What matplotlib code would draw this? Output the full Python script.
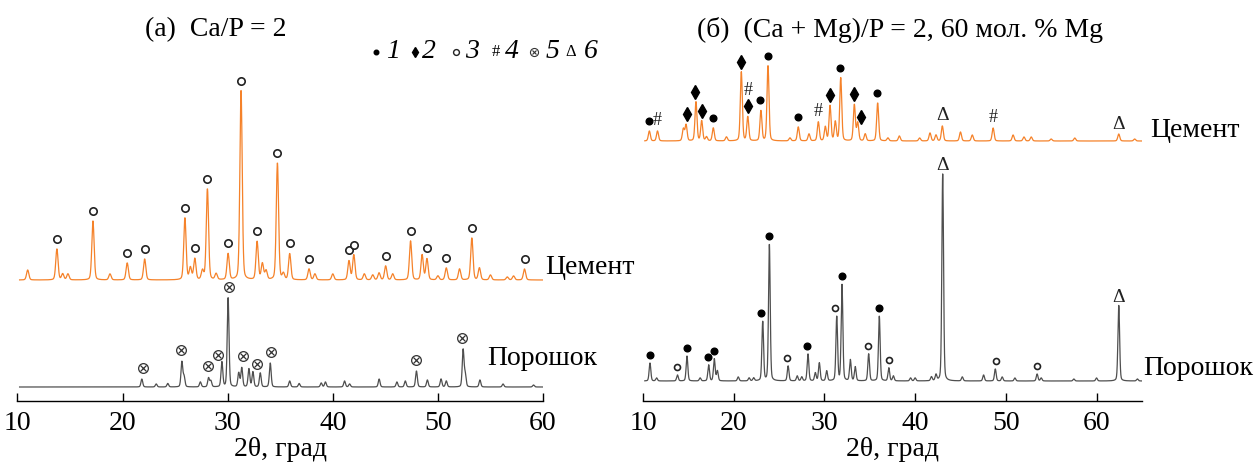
import numpy as np
import matplotlib.pyplot as plt

plt.rcParams['font.family'] = ['Liberation Serif', 'DejaVu Serif']

W, H = 1256, 465
Y0 = 401  # row of the x axis line, px

# ---- (a) Ca/P = 2 : cement ----
a_cem_pos = [10.97, 13.75, 14.3, 14.8, 17.18, 18.8, 20.44, 22.1, 25.93, 26.45,
             26.87, 27.6, 28.07, 28.9, 30.04, 31.27, 32.8, 33.3, 33.65, 34.73,
             35.3, 35.9, 37.74, 38.3, 40.0, 41.54, 42.0, 43.0, 43.8, 44.4,
             45.03, 45.7, 47.4, 48.5, 48.96, 50.0, 50.8, 52.06, 53.23, 53.95,
             55.0, 56.6, 57.2, 58.24]
a_cem_int = [10, 31, 6, 6, 59, 6, 17, 21, 62, 12,
             21, 9, 91, 6, 26, 190, 38, 16, 9, 117,
             6, 26, 11, 6, 6, 19, 25, 6, 5, 7,
             14, 6, 39, 25, 21, 4, 12, 11, 42, 12,
             5, 3, 4, 11]
a_cem_base = 121
a_cem_marks = [(13.75, '○'), (17.18, '○'), (20.44, '○'), (22.1, '○'), (25.93, '○'),
               (26.87, '○'), (28.07, '○'), (30.04, '○'), (31.27, '○'), (32.8, '○'),
               (34.73, '○'), (35.9, '○'), (37.74, '○'), (41.54, '○'), (42.0, '○'),
               (45.03, '○'), (47.4, '○'), (48.96, '○'), (50.8, '○'), (53.23, '○'),
               (58.24, '○')]

# ---- (a) Ca/P = 2 : powder ----
a_pow_pos = [21.83, 23.2, 24.3, 25.64, 25.85, 27.4, 28.18, 28.4, 29.45, 30.04,
             31.05, 31.34, 32.02, 32.4, 33.1, 34.05, 35.9, 36.8, 38.9, 39.3,
             41.12, 41.6, 44.41, 46.1, 46.9, 47.96, 49.0, 50.3, 50.8, 52.4,
             52.6, 54.0, 56.2, 59.1]
a_pow_int = [8, 3, 3.5, 25, 10, 5, 9, 6, 25, 89,
             14, 19, 18, 15, 14, 24, 6, 3.5, 4, 5,
             6, 3, 8, 5, 6, 16, 7, 8, 6, 37,
             12, 7, 3, 2]
a_pow_base = 14
a_pow_marks = [(21.95, '⊗'), (25.6, '⊗'), (28.1, '⊗'), (29.1, '⊗'), (30.1, '⊗'),
               (31.5, '⊗'), (32.75, '⊗'), (34.1, '⊗'), (47.96, '⊗'), (52.3, '⊗')]

# ---- (б) (Ca+Mg)/P = 2, 60 mol.% Mg : cement ----
b_cem_pos = [10.7, 11.6, 14.45, 14.75, 15.84, 16.47, 17.0, 17.75, 19.2, 20.84,
             21.55, 23.0, 23.78, 26.2, 27.12, 28.3, 29.33, 30.1, 30.62, 31.2,
             31.8, 33.3, 33.67, 34.5, 35.87, 37.0, 38.26, 40.5, 41.64, 42.3,
             43.0, 45.0, 46.3, 48.6, 50.8, 52.0, 52.8, 55.0, 57.6, 62.45,
             64.2]
b_cem_int = [10, 10, 12, 16, 39, 20, 4, 13, 4, 69,
             24, 30, 75, 3, 14, 7, 19, 14, 35, 19,
             63, 36, 18, 7, 38, 3, 5, 3, 8, 6,
             15, 9, 6, 13, 6, 4, 4, 2, 3, 7,
             2]
b_cem_base = 260
b_cem_marks = [(10.7, '●'), (11.6, '#'), (14.9, '♦'), (15.7, '♦'), (16.47, '♦'),
               (17.75, '●'), (20.84, '♦'), (21.6, '♦'), (21.6, '#', 1), (22.94, '●'),
               (23.78, '●'), (27.12, '●'), (29.26, '#'), (30.62, '♦'), (31.75, '●'),
               (33.25, '♦'), (34.05, '♦'), (35.8, '●'), (43.0, 'Δ'), (48.6, '#'),
               (62.45, 'Δ')]

# ---- (б) powder ----
b_pow_pos = [10.77, 11.5, 13.8, 14.85, 16.3, 17.24, 17.86, 18.2, 20.5, 21.7,
             22.2, 23.2, 23.93, 26.0, 27.0, 27.5, 28.19, 29.0, 29.44, 30.25,
             31.36, 31.94, 32.86, 33.4, 34.88, 36.05, 37.1, 37.6, 39.5, 40.0,
             41.8, 42.3, 43.04, 45.2, 47.55, 48.84, 49.6, 51.0, 53.45, 53.9,
             57.5, 60.0, 62.45, 64.5]
b_pow_int = [18, 3, 6, 25, 3, 16, 22, 10, 4, 3,
             3, 59, 137, 15, 5, 4, 27, 8, 18, 10,
             64, 96, 21, 14, 27, 65, 13, 5, 3, 3,
             4, 6, 207, 4, 6, 12, 4, 3, 7, 3,
             2, 3, 76, 2]
b_pow_base = 20
b_pow_marks = [(10.77, '●'), (13.75, '○'), (14.85, '●'), (17.2, '●'), (17.8, '●'),
               (22.98, '●'), (23.85, '●'), (25.9, '○'), (28.1, '●'), (31.17, '○'),
               (31.9, '●'), (34.8, '○'), (36.0, '●'), (37.1, '○'), (43.04, 'Δ'),
               (48.9, '○'), (53.4, '○'), (62.45, 'Δ')]

ORANGE = '#f5822a'
GRAY = '#4f4f4f'


def pattern(tt, pos, amp, base, fwhm):
    y = np.full_like(tt, float(base))
    for p, a in zip(pos, amp):
        u = (tt - p) / fwhm
        y += a * (0.75 * np.exp(-4 * np.log(2) * u ** 2) + 0.25 / (1 + 4 * u ** 2))
    return y


def draw_mark(ax, x, y, sym, small=False):
    if sym == '●':
        ax.plot(x, y, 'o', ms=4.8, color='k', clip_on=False)
    elif sym == '○':
        ax.plot(x, y, 'o', ms=4.3 if small else 5.3, mfc='white', mec='#222', mew=1.2, clip_on=False)
    elif sym == '♦':
        ax.plot(x, y, 'd', ms=7, color='k', clip_on=False)
    elif sym == '⊗':
        ax.plot(x, y, 'o', ms=7, mfc='white', mec='#333', mew=0.9, clip_on=False)
        ax.plot(x, y, 'x', ms=4.3, mec='#333', mew=0.9, clip_on=False)
    elif sym == '#':
        ax.text(x, y, '#', fontsize=13, ha='center', va='center', color='#222')
    elif sym == 'Δ':
        ax.text(x, y, 'Δ', fontsize=14, ha='center', va='center', color='#222')


def marks(ax, tt, yy, mlist, gap, small=False):
    for m in mlist:
        deg, sym = m[0], m[1]
        level = m[2] if len(m) > 2 else 0
        sel = np.abs(tt - deg) <= 0.3
        top = yy[sel].max()
        draw_mark(ax, deg, top + gap + 16 * level, sym, small)


fig = plt.figure(figsize=(W / 100, H / 100), dpi=100)
axa = fig.add_axes([17.5 / W, (H - Y0) / H, 525.5 / W, Y0 / H])
axb = fig.add_axes([643 / W, (H - Y0) / H, 498.9 / W, Y0 / H])

tta = np.arange(10.2, 60.0, 0.02)
ttb = np.arange(10.2, 65.0, 0.02)

y_ac = pattern(tta, a_cem_pos, a_cem_int, a_cem_base, 0.26)
y_ap = pattern(tta, a_pow_pos, a_pow_int, a_pow_base, 0.2)
y_bc = pattern(ttb, b_cem_pos, b_cem_int, b_cem_base, 0.26)
y_bp = pattern(ttb, b_pow_pos, b_pow_int, b_pow_base, 0.22)

axa.plot(tta, y_ac, color=ORANGE, lw=0.9)
axa.plot(tta, y_ap, color=GRAY, lw=0.9)
axb.plot(ttb, y_bc, color=ORANGE, lw=0.9)
axb.plot(ttb, y_bp, color=GRAY, lw=0.9)

marks(axa, tta, y_ac, a_cem_marks, 10)
marks(axa, tta, y_ap, a_pow_marks, 11)
marks(axb, ttb, y_bc, b_cem_marks, 10)
marks(axb, ttb, y_bp, b_pow_marks, 8, small=True)

for ax, hi in ((axa, 60), (axb, 65)):
    ax.set_xlim(10, hi)
    ax.set_ylim(0, Y0)
    ax.set_xticks(range(10, 61, 10))
    ax.patch.set_alpha(0)
    for s in ('top', 'left', 'right'):
        ax.spines[s].set_visible(False)
    ax.spines['bottom'].set_linewidth(1.0)
    ax.set_yticks([])
    ax.tick_params(axis='x', direction='in', length=6, width=1.0, pad=7, labelsize=20)
    ax.set_xlabel('2θ, град', fontsize=20, labelpad=1)

# overlay for labels and legend, in pixel coordinates
ov = fig.add_axes([0, 0, 1, 1])
ov.set_xlim(0, W)
ov.set_ylim(H, 0)
ov.axis('off')
ov.patch.set_alpha(0)

ov.text(216, 30, '(a)  Ca/P = 2', fontsize=20, ha='center', va='center')
ov.text(900, 30, '(б)  (Ca + Mg)/P = 2, 60 мол. % Mg', fontsize=20, ha='center', va='center')
ov.text(545, 267, 'Цемент', fontsize=20, va='center')
ov.text(487, 358, 'Порошок', fontsize=20, va='center')
ov.text(1150, 130, 'Цемент', fontsize=20, va='center')
ov.text(1143, 368, 'Порошок', fontsize=20, va='center')

# legend row
ly = 52
ov.plot(376, ly, 'o', ms=3.3, color='k')
ov.plot(415, ly, 'd', ms=5.5, color='k')
ov.plot(456, ly, 'o', ms=4.2, mfc='white', mec='#222', mew=1.0)
ov.text(496, ly, '#', fontsize=12, ha='center', va='center')
ov.plot(534, ly, 'o', ms=5.8, mfc='white', mec='#333', mew=0.8)
ov.plot(534, ly, 'x', ms=3.5, mec='#333', mew=0.8)
ov.text(571, ly, 'Δ', fontsize=12, ha='center', va='center')
for x, d in ((393, '1'), (429, '2'), (472, '3'), (512, '4'), (552, '5'), (591, '6')):
    ov.text(x, ly, d, fontsize=20, style='italic', ha='center', va='center')

fig.savefig('out.png', dpi=100)
